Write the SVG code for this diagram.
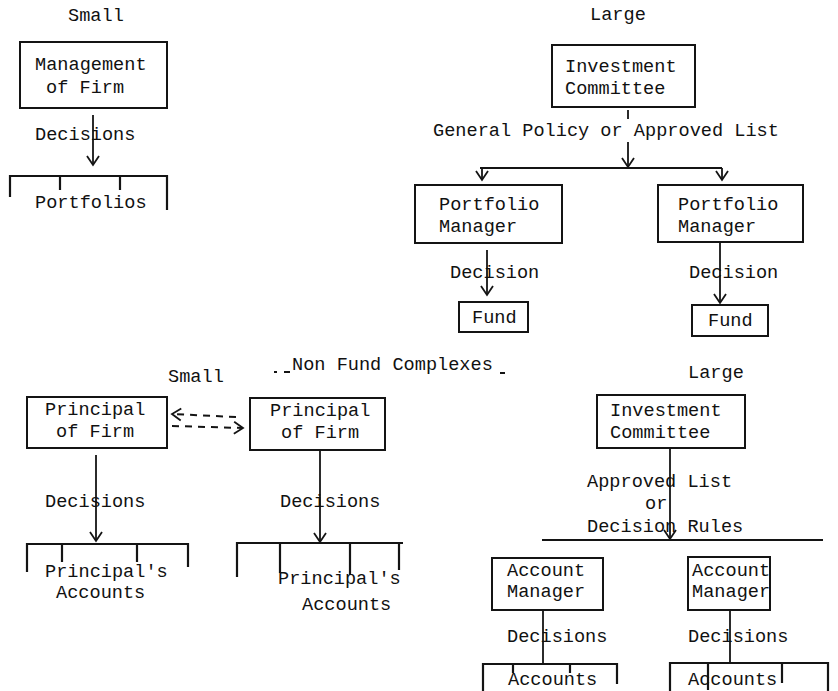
<svg xmlns="http://www.w3.org/2000/svg" width="838" height="691" viewBox="0 0 838 691">
<style>
text{font-family:"Liberation Mono","DejaVu Sans Mono",monospace;font-size:18.6px;fill:#111}
.box{fill:none;stroke:#141414;stroke-width:2}
.ln{fill:none;stroke:#141414;stroke-width:1.8}
.br{fill:none;stroke:#141414;stroke-width:2.2}
.dash{fill:none;stroke:#141414;stroke-width:2;stroke-dasharray:7 6}
</style>
<defs>
<marker id="v" markerUnits="userSpaceOnUse" markerWidth="20" markerHeight="20" refX="0" refY="0" viewBox="-10 -10 20 20" orient="auto" overflow="visible">
<path d="M-9,-6 L0,0 L-9,6" fill="none" stroke="#141414" stroke-width="1.8"/>
</marker>
</defs>
<rect width="838" height="691" fill="#fff"/>

<g id="labels">
<text x="68" y="21">Small</text>
<text x="590" y="20">Large</text>
<text x="168" y="382">Small</text>
<text x="688" y="378">Large</text>
<text x="292" y="370">Non Fund Complexes</text>
<path d="M274,372 h3 M284,372 h6 M500,373 h5" class="ln"/>
</g>

<g id="n-mgmt">
<rect class="box" x="20" y="42" width="147" height="66"/>
<text x="35" y="70">Management</text>
<text x="46" y="93">of Firm</text>
</g>
<g id="n-portfolios">
<path class="br" d="M10,197 V176 H167 V210 M60,176 V190 M120,176 V190"/>
<text x="35" y="208">Portfolios</text>
</g>

<g id="n-ic1">
<rect class="box" x="552" y="45" width="143" height="62"/>
<text x="565" y="72">Investment</text>
<text x="565" y="94">Committee</text>
</g>
<g id="n-pm1">
<rect class="box" x="415" y="185" width="147" height="58"/>
<text x="439" y="210">Portfolio</text>
<text x="439" y="232">Manager</text>
</g>
<g id="n-pm2">
<rect class="box" x="658" y="185" width="145" height="57"/>
<text x="678" y="210">Portfolio</text>
<text x="678" y="232">Manager</text>
</g>
<g id="n-fund1">
<rect class="box" x="459" y="302" width="69" height="30"/>
<text x="472" y="323">Fund</text>
</g>
<g id="n-fund2">
<rect class="box" x="692" y="305" width="76" height="31"/>
<text x="708" y="326">Fund</text>
</g>

<g id="n-pof1">
<rect class="box" x="27" y="397" width="140" height="51"/>
<text x="45" y="415">Principal</text>
<text x="56" y="437">of Firm</text>
</g>
<g id="n-pof2">
<rect class="box" x="250" y="398" width="135" height="52"/>
<text x="270" y="416">Principal</text>
<text x="281" y="438">of Firm</text>
</g>
<g id="n-pacc1">
<path class="br" d="M27,572 V544 H188 V567 M62,544 V562 M137,544 V562"/>
<text x="45" y="577">Principal's</text>
<text x="56" y="598">Accounts</text>
</g>
<g id="n-pacc2">
<path class="br" d="M237,577 V543 H403 M280,543 V573 M350,543 V575 M399,543 V570"/>
<text x="278" y="584">Principal's</text>
<text x="302" y="610">Accounts</text>
</g>

<g id="n-ic2">
<rect class="box" x="597" y="395" width="148" height="53"/>
<text x="610" y="416">Investment</text>
<text x="610" y="438">Committee</text>
</g>
<g id="n-am1">
<rect class="box" x="492" y="558" width="111" height="52"/>
<text x="507" y="576">Account</text>
<text x="507" y="597">Manager</text>
</g>
<g id="n-am2">
<rect class="box" x="688" y="557" width="82" height="53"/>
<text x="692" y="576">Account</text>
<text x="692" y="597">Manager</text>
</g>
<g id="n-acc1">
<path class="br" d="M483,691 V664 H617 V684 M513,664 V673 M570,664 V673"/>
<text x="508" y="685">Accounts</text>
</g>
<g id="n-acc2">
<path class="br" d="M670,691 V663 H828 V691 M708,663 V690 M782,663 V683"/>
<text x="688" y="685">Accounts</text>
</g>

<g id="connectors">
<line class="ln" x1="93" y1="115" x2="93" y2="165" marker-end="url(#v)"/>
<text x="35" y="140">Decisions</text>
<line class="ln" x1="628" y1="110" x2="628" y2="119"/>
<text x="433" y="136">General Policy or Approved List</text>
<line class="ln" x1="628" y1="142" x2="628" y2="167" marker-end="url(#v)"/>
<path class="br" d="M480,168 H722"/>
<line class="ln" x1="482" y1="168" x2="482" y2="180" marker-end="url(#v)"/>
<line class="ln" x1="722" y1="168" x2="722" y2="180" marker-end="url(#v)"/>
<line class="ln" x1="487" y1="250" x2="487" y2="295" marker-end="url(#v)"/>
<text x="450" y="278">Decision</text>
<line class="ln" x1="720" y1="242" x2="720" y2="303" marker-end="url(#v)"/>
<text x="689" y="278">Decision</text>
<line class="dash" x1="236" y1="417" x2="172" y2="414" marker-end="url(#v)"/>
<line class="dash" x1="172" y1="426" x2="243" y2="428" marker-end="url(#v)"/>
<line class="ln" x1="96" y1="455" x2="96" y2="541" marker-end="url(#v)"/>
<text x="45" y="507">Decisions</text>
<line class="ln" x1="320" y1="450" x2="320" y2="542" marker-end="url(#v)"/>
<text x="280" y="507">Decisions</text>
<line class="ln" x1="670" y1="448" x2="670" y2="539" marker-end="url(#v)"/>
<text x="587" y="487">Approved List</text>
<text x="645" y="509">or</text>
<text x="587" y="532">Decision Rules</text>
<path class="br" d="M542,540 H823"/>
<line class="ln" x1="543" y1="610" x2="543" y2="664"/>
<text x="507" y="642">Decisions</text>
<line class="ln" x1="730" y1="610" x2="730" y2="663"/>
<text x="688" y="642">Decisions</text>
</g>
</svg>
